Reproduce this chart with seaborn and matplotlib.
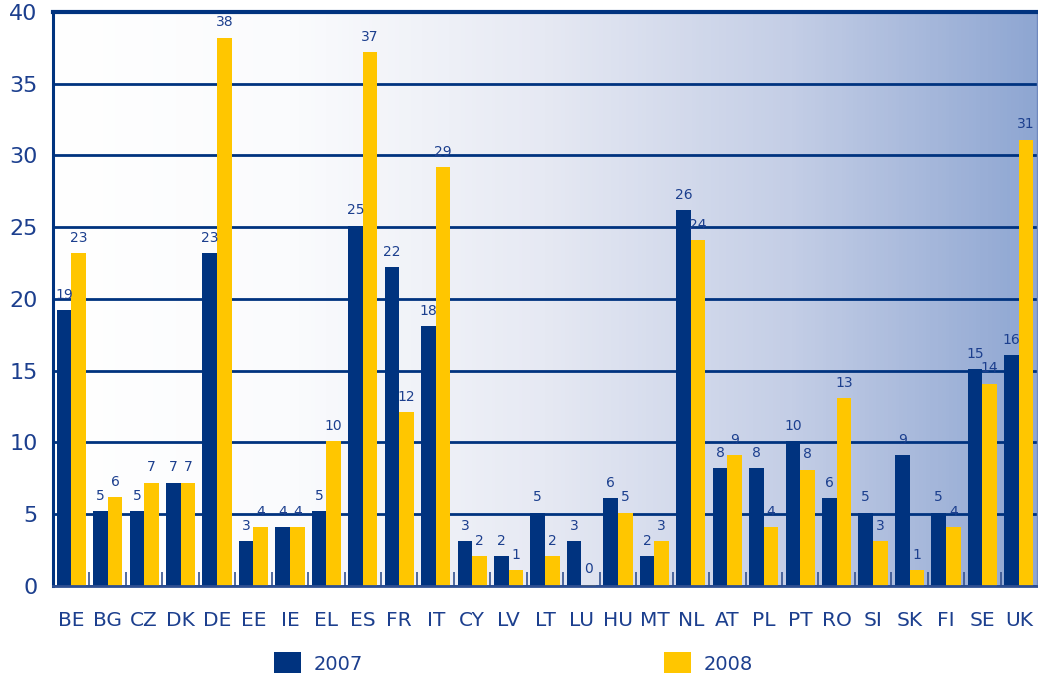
import numpy as np
import pandas as pd
import matplotlib
matplotlib.use("Agg")
import matplotlib.pyplot as plt
import seaborn as sns
from matplotlib.colors import LinearSegmentedColormap

# =========================
# DATA
# =========================
countries = ["BE", "BG", "CZ", "DK", "DE", "EE", "IE", "EL", "ES", "FR", "IT",
             "CY", "LV", "LT", "LU", "HU", "MT", "NL", "AT", "PL", "PT", "RO",
             "SI", "SK", "FI", "SE", "UK"]
values_2007 = [19.2, 5.2, 5.2, 7.2, 23.2, 3.1, 4.1, 5.2, 25.1, 22.2, 18.1,
               3.1, 2.1, 5.1, 3.1, 6.1, 2.1, 26.2, 8.2, 8.2, 10.1, 6.1,
               5.1, 9.1, 5.1, 15.1, 16.1]
values_2008 = [23.2, 6.2, 7.2, 7.2, 38.2, 4.1, 4.1, 10.1, 37.2, 12.1, 29.2,
               2.1, 1.1, 2.1, 0.1, 5.1, 3.1, 24.1, 9.1, 4.1, 8.1, 13.1,
               3.1, 1.1, 4.1, 14.1, 31.1]
years = ["2007", "2008"]

df = pd.DataFrame({
    "country": countries * 2,
    "year": [years[0]] * len(countries) + [years[1]] * len(countries),
    "value": values_2007 + values_2008,
})

# =========================
# STYLE
# =========================
NAVY = "#00337F"
YELLOW = "#FFC600"
TEXT = "#1C3F8E"

sns.set_style("white")
plt.rcParams["font.family"] = ["DejaVu Sans"]

fig = plt.figure(figsize=(10.38, 6.73), dpi=100)
ax = fig.add_axes([0.0511, 0.1293, 0.948, 0.853])

# background gradient
grad = LinearSegmentedColormap.from_list(
    "bg", [(0.0, "#FFFFFF"), (0.25, "#FAFBFD"), (0.5, "#E6E9F3"),
           (0.75, "#C4CEE6"), (1.0, "#8EA6D2")])
ax.imshow(np.linspace(0, 1, 256).reshape(1, -1), cmap=grad, aspect="auto",
          extent=[-0.5, len(countries) - 0.5, 0, 40], zorder=0)

sns.barplot(data=df, x="country", y="value", hue="year", hue_order=years,
            palette={"2007": NAVY, "2008": YELLOW}, saturation=1,
            width=0.8, linewidth=0, ax=ax, zorder=2)

for cont in ax.containers:
    labels = [str(int(v)) for v in cont.datavalues]
    ax.bar_label(cont, labels=labels, padding=6, fontsize=10, color=TEXT)

ax.set_xlim(-0.5, len(countries) - 0.5)
ax.set_ylim(0, 40)
ax.set_yticks(range(0, 41, 5))
ax.set_xlabel("")
ax.set_ylabel("")

ax.set_axisbelow(True)
ax.yaxis.grid(True, color=NAVY, linewidth=2.0)
ax.xaxis.grid(False)

ax.tick_params(axis="y", length=0, pad=11, labelsize=16, labelcolor=TEXT)
ax.tick_params(axis="x", which="major", length=0, pad=18, labelsize=14.5,
               labelcolor=TEXT)
ax.set_xticks(np.arange(0.5, len(countries) - 1, 1), minor=True)
ax.tick_params(axis="x", which="minor", bottom=True, direction="in",
               length=10, width=1.2, color="#34528F")

for side in ["top", "left"]:
    ax.spines[side].set_color(NAVY)
ax.spines["top"].set_linewidth(3)
ax.spines["left"].set_linewidth(2.2)
ax.spines["bottom"].set_color("#2E4F92")
ax.spines["bottom"].set_linewidth(2)
ax.spines["right"].set_color("#6F88BE")
ax.spines["right"].set_linewidth(1)

# legend
handles, labs = ax.get_legend_handles_labels()
ax.get_legend().remove()
fig.legend(handles, labs, loc="center", bbox_to_anchor=(0.4947, 0.014),
           ncol=2, frameon=False, fontsize=14, labelcolor=TEXT,
           handlelength=1.4, handleheight=1.4, handletextpad=0.65,
           columnspacing=15.5, borderpad=0)

fig.savefig("out.png", dpi=100)
